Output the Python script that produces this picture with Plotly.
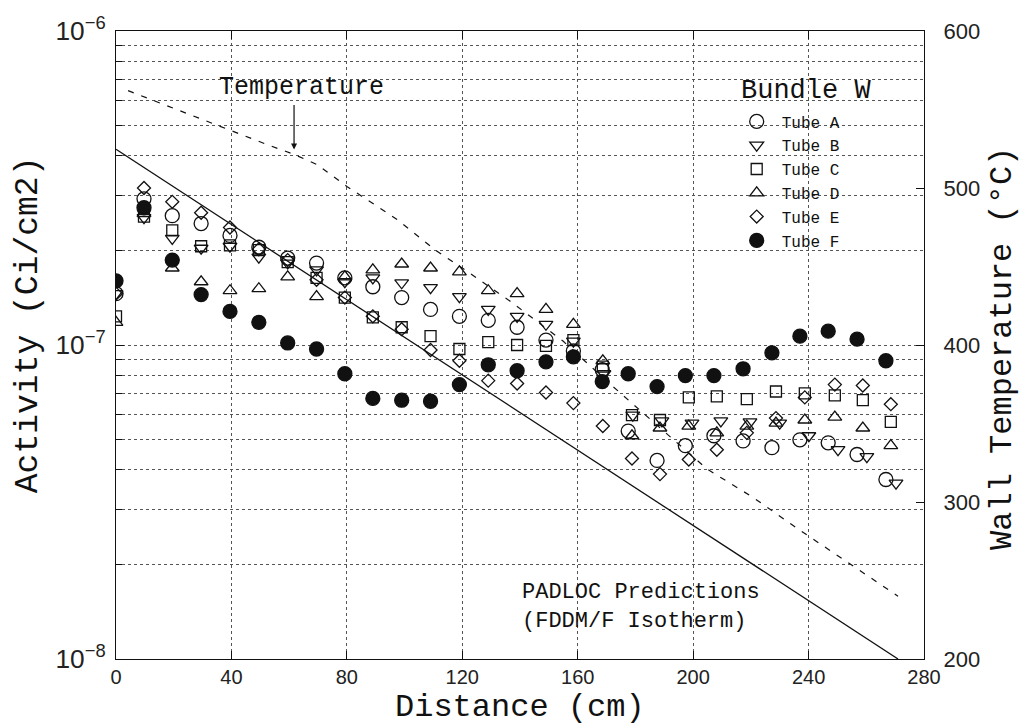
import plotly.graph_objects as go

# ---------------- data ----------------
x_af = [0, 9.7, 19.5, 29.5, 39.5, 49.5, 59.5, 69.5, 79.3, 89, 99, 109, 119, 129,
        139, 149, 158.5, 168.5, 177.5, 187.5, 197.3, 207.2, 217.3, 227.3, 237,
        246.8, 256.8, 266.8]
x_cde = [0, 9.7, 19.5, 29.5, 39.5, 49.5, 59.5, 69.5, 79.3, 89, 99, 109, 119, 129,
         139, 149, 158.5, 168.7, 178.8, 188.5, 198.5, 208.2, 218.6, 228.7, 238.7,
         249.1, 258.8, 268.5]
x_b = [0, 9.7, 19.5, 29.5, 39.5, 49.5, 59.5, 69.5, 79.3, 89, 99, 109, 119, 129,
       139, 149, 158.5, 169.1, 179.1, 189.2, 199.6, 209.6, 219.7, 230.0, 240.1,
       250.2, 260.2, 270.3]

tube_a = [1.457, 2.92, 2.582, 2.437, 2.234, 2.048, 1.891, 1.824, 1.636, 1.533,
          1.416, 1.298, 1.234, 1.198, 1.139, 1.037, 0.957, 0.834, 0.532, 0.429,
          0.478, 0.514, 0.495, 0.471, 0.499, 0.488, 0.448, 0.373]
tube_b = [1.457, 2.545, 2.186, 2.033, 2.063, 1.905, 1.824, 1.734, 1.590, 1.636,
          1.578, 1.522, 1.426, 1.298, 1.234, 1.164, 1.029, 0.810, 0.598, 0.573,
          0.564, 0.573, 0.569, 0.564, 0.514, 0.464, 0.441, 0.363]
tube_c = [1.234, 2.563, 2.316, 2.063, 2.077, 2.004, 1.837, 1.636, 1.416, 1.225,
          1.139, 1.067, 0.971, 1.022, 1.000, 0.993, 1.037, 0.853, 0.598, 0.577,
          0.681, 0.686, 0.672, 0.711, 0.701, 0.691, 0.667, 0.569]
tube_d = [1.181, 2.619, 1.759, 1.590, 1.489, 1.511, 1.648, 1.426, 1.648, 1.734,
          1.811, 1.759, 1.709, 1.489, 1.457, 1.298, 1.164, 0.891, 0.514, 0.544,
          0.552, 0.525, 0.552, 0.564, 0.577, 0.589, 0.544, 0.478]
tube_e = [1.457, 3.162, 2.858, 2.638, 2.367, 2.018, 1.864, 1.613, 1.416, 1.234,
          1.123, 0.964, 0.891, 0.770, 0.754, 0.706, 0.653, 0.552, 0.435, 0.388,
          0.432, 0.464, 0.525, 0.585, 0.681, 0.748, 0.743, 0.648]
tube_f = [1.601, 2.736, 1.864, 1.447, 1.279, 1.181, 1.015, 0.971, 0.810, 0.676,
          0.667, 0.662, 0.748, 0.865, 0.828, 0.884, 0.917, 0.765, 0.810, 0.737,
          0.799, 0.799, 0.840, 0.944, 1.067, 1.107, 1.044, 0.891]
UNIT = 1e-7  # activity values above are in units of 1e-7 Ci/cm2

padloc_x = [0, 271]
padloc_y = [4.2e-7, 1.0e-8]

temp_x = [4.2, 29.1, 40.5, 52.3, 61.7, 69.6, 80, 97.4, 111, 120, 136.5, 149,
          154.9, 171, 189.5, 204.8, 220.7, 237, 271]
temp_t = [562, 544, 536, 527.7, 521.4, 515, 501, 480, 460, 449, 428, 411,
          402.5, 375.5, 346, 321, 303, 282, 240]

x_ticks = [0, 40, 80, 120, 160, 200, 240, 280]
t_ticks = [200, 300, 400, 500, 600]

# ---------------- figure ----------------
MONO = "Liberation Mono, Courier New, monospace"
SANS = "Liberation Sans, Arial, sans-serif"
INK = "#111111"

fig = go.Figure()

series = [
    ("Tube A", x_af, tube_a, "circle-open", 14),
    ("Tube B", x_b, tube_b, "triangle-down-open", 12),
    ("Tube C", x_cde, tube_c, "square-open", 11),
    ("Tube D", x_cde, tube_d, "triangle-up-open", 12),
    ("Tube E", x_cde, tube_e, "diamond-open", 10),
    ("Tube F", x_af, tube_f, "circle", 14),
]
for name, xs, ys, sym, sz in series:
    fig.add_trace(go.Scatter(
        x=xs, y=[v * UNIT for v in ys], mode="markers", name=name,
        marker=dict(symbol=sym, size=sz, color=INK,
                    line=dict(color=INK, width=1.3)),
    ))

fig.add_trace(go.Scatter(x=padloc_x, y=padloc_y, mode="lines",
                         line=dict(color=INK, width=1.3), showlegend=False))
fig.add_trace(go.Scatter(x=temp_x, y=temp_t, mode="lines", yaxis="y2",
                         line=dict(color=INK, width=1.2, dash="6px,8px"),
                         showlegend=False))

GRID = dict(showgrid=True, gridcolor="#555555", griddash="dot", gridwidth=1)

fig.update_layout(
    width=1026, height=726,
    margin=dict(l=116, r=102, t=23, b=67),
    paper_bgcolor="white", plot_bgcolor="white",
    showlegend=True,
    legend=dict(x=0.762, y=0.883, xanchor="left", yanchor="top",
                bgcolor="rgba(0,0,0,0)", borderwidth=0, itemwidth=40,
                font=dict(family=MONO, size=16, color=INK),
                itemclick=False),
    xaxis=dict(range=[0, 280], tickvals=x_ticks, ticks="inside", ticklen=8,
               tickcolor=INK, showline=True, linecolor=INK, linewidth=1.3,
               mirror="ticks", zeroline=False,
               tickfont=dict(family=SANS, size=20, color="#222222"), **GRID),
    yaxis=dict(type="log", range=[-8, -6], dtick=1, exponentformat="power",
               showexponent="all", ticklabelstandoff=5,
               ticks="inside", ticklen=8, tickcolor=INK,
               showline=True, linecolor=INK, linewidth=1.3, mirror=True,
               zeroline=False,
               minor=dict(dtick="D1", ticks="inside", ticklen=6,
                          tickcolor=INK, **GRID),
               tickfont=dict(family=SANS, size=21, color="#222222"), **GRID),
    yaxis2=dict(overlaying="y", side="right", range=[200, 600],
                tickvals=t_ticks, ticks="inside", ticklen=8, tickcolor=INK,
                showline=True, linecolor=INK, linewidth=1.3, showgrid=False,
                zeroline=False, ticklabelstandoff=14,
                tickfont=dict(family=SANS, size=22, color="#222222")),
    annotations=[
        dict(text="Temperature", x=64.4, y=564, xref="x", yref="y2",
             xanchor="center", yanchor="middle",
             showarrow=False, font=dict(family=MONO, size=25, color=INK)),
        dict(text="", x=61.7, y=524.5, xref="x", yref="y2", showarrow=True,
             ax=0, ay=-46, arrowhead=2, arrowsize=1, arrowwidth=1.2,
             arrowcolor=INK),
        dict(text="Bundle W", x=239.1, y=561.6, xref="x", yref="y2",
             xanchor="center", yanchor="middle",
             showarrow=False, font=dict(family=MONO, size=27, color=INK)),
        dict(text="PADLOC Predictions<br>(FDDM/F Isotherm)", x=140, y=233.3,
             xref="x", yref="y2", xanchor="left", yanchor="middle",
             align="left", showarrow=False,
             font=dict(family=MONO, size=22, color=INK)),
        dict(text="Distance (cm)", x=0.5, y=-0.078, xref="paper",
             yref="paper", xanchor="center", yanchor="middle",
             showarrow=False, font=dict(family=MONO, size=32, color=INK)),
        dict(text="Activity (Ci/cm2)", x=-0.109, y=0.533, xref="paper",
             yref="paper", xanchor="center", yanchor="middle",
             showarrow=False, textangle=-90,
             font=dict(family=MONO, size=33, color=INK)),
        dict(text="Wall Temperature (°C)", x=1.098, y=0.494, xref="paper",
             yref="paper", xanchor="center", yanchor="middle",
             showarrow=False, textangle=-90,
             font=dict(family=MONO, size=32, color=INK)),
    ],
)

fig.write_html("out.html", config={"displayModeBar": False},
               post_script="document.body.style.margin='0';")
